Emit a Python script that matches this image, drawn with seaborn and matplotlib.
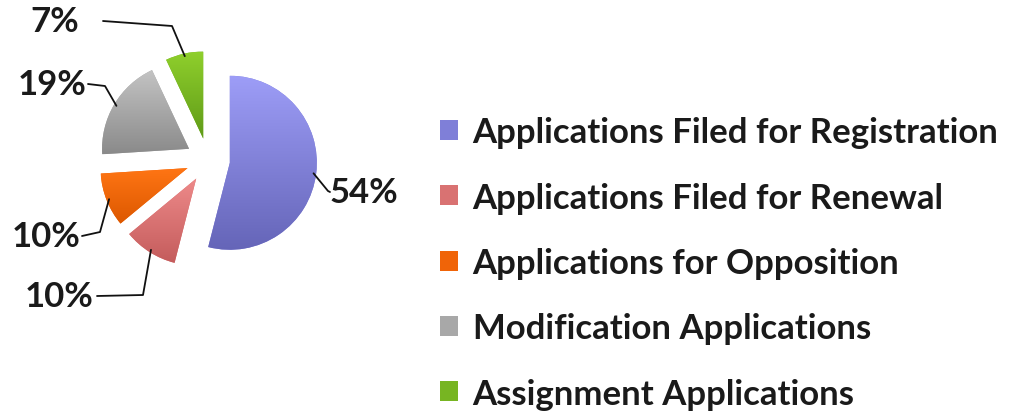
import numpy as np
import seaborn as sns
import matplotlib
matplotlib.use('Agg')
import matplotlib.pyplot as plt
from matplotlib.colors import LinearSegmentedColormap

# data
categories = ['Applications Filed for Registration', 'Applications Filed for Renewal',
              'Applications for Opposition', 'Modification Applications', 'Assignment Applications']
shares = [54, 10, 10, 19, 7]
pct_labels = ['54%', '10%', '10%', '19%', '7%']

# colours (top / bottom of the gradient)
top_colors = ['#9d9df7', '#ee8a8a', '#ff7514', '#c4c4c4', '#8fcf2c']
bottom_colors = ['#6565b8', '#c45c5c', '#dc5800', '#8a8a8a', '#5f9a18']
mid_colors = ['#7f7fd8', '#d97272', '#f06408', '#a8a8a8', '#77b522']

sns.set_theme(style='white')
plt.rcParams['font.family'] = ['Lato', 'DejaVu Sans']
plt.rcParams['font.weight'] = 'bold'

W, H = 1021, 414
fig = plt.figure(figsize=(W / 100, H / 100), dpi=100)
ax = fig.add_axes([0, 0, 1, 1])

# pie centre / radius / explode in pixel units
cx, cy, R, gap = 208, H - 161, 87, 22
wedges, _ = ax.pie(shares, colors=mid_colors, startangle=90, counterclock=False,
                   radius=R, center=(cx, cy), explode=[gap] * len(shares),
                   wedgeprops=dict(linewidth=0))

# vertical gradient on every slice
grad = np.linspace(0, 1, 256).reshape(-1, 1)
for w, c0, c1 in zip(wedges, top_colors, bottom_colors):
    bb = w.get_path().get_extents()
    cmap = LinearSegmentedColormap.from_list('g', [c0, c1])
    im = ax.imshow(grad, cmap=cmap, extent=(bb.x0, bb.x1, bb.y0, bb.y1),
                   origin='upper', aspect='auto', zorder=w.get_zorder() + 0.1)
    im.set_clip_path(w)

# leader lines: elbow + line end (pixel coords), text anchor
elbows = [(328, 192), (143, 296), (100, 233), (105, 87), (172, 27)]
line_ends = [(330, 193), (97, 297), (82, 237), (88, 85), (103, 22)]
text_pos = [(330, 193, 'left'), (94, 297, 'right'), (81, 237, 'right'),
            (87, 85, 'right'), (79, 22, 'right')]
for w, lab, el, le, tp in zip(wedges, pct_labels, elbows, line_ends, text_pos):
    ang = np.deg2rad((w.theta1 + w.theta2) / 2)
    ax_, ay_ = w.center[0] + 0.97 * w.r * np.cos(ang), w.center[1] + 0.97 * w.r * np.sin(ang)
    ax.plot([ax_, el[0], le[0]], [ay_, H - el[1], H - le[1]], color='#111111', lw=1.3, zorder=5)
    ax.text(tp[0], H - tp[1], lab, ha=tp[2], va='center', fontsize=25,
            fontweight='bold', color='#1a1a1a')

leg = ax.legend(wedges, categories, loc='center left',
                bbox_to_anchor=(440 / W, 1 - 264 / H), bbox_transform=fig.transFigure,
                frameon=False, fontsize=25, handlelength=0.52, handleheight=0.52,
                handletextpad=0.42, labelspacing=0.96, borderpad=0, borderaxespad=0)
for t in leg.get_texts():
    t.set_fontweight('bold')
    t.set_color('#1a1a1a')

ax.set_xlim(0, W)
ax.set_ylim(0, H)
ax.axis('off')

fig.savefig('out.png', dpi=100)
